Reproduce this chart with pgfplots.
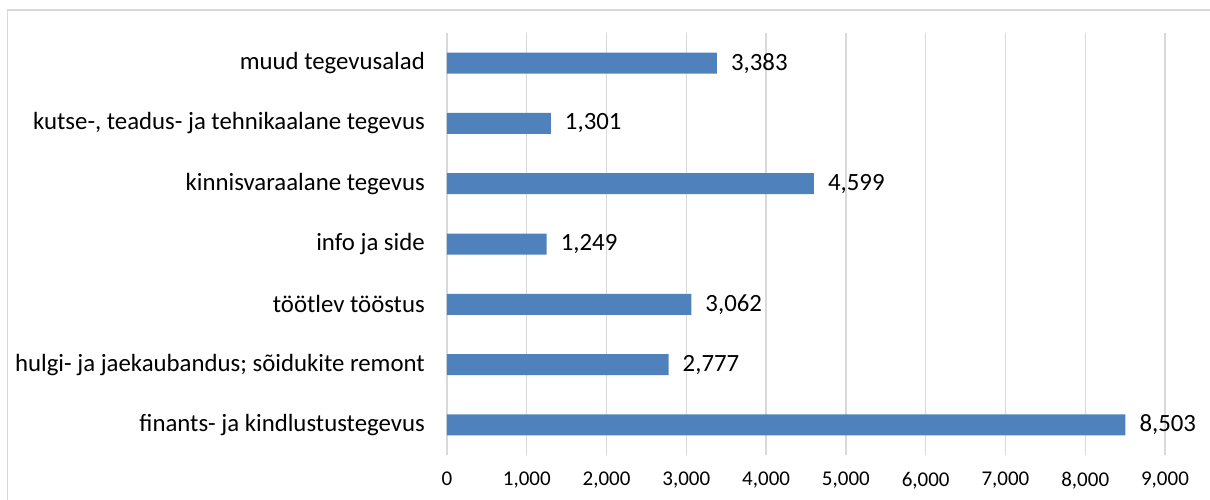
\documentclass[border=0pt]{standalone}
\usepackage{pgfplots}
\pgfplotsset{compat=1.18}
\usepackage{fontspec}
\setmainfont{Carlito}
\definecolor{barblue}{HTML}{4F81BD}
\definecolor{gridgray}{HTML}{D9D9D9}
\begin{document}
\begin{tikzpicture}
\path[use as bounding box] (0,0) rectangle (1210pt,499pt);
\draw[gridgray, line width=1.5pt] (7.5pt,-5pt) -- (7.5pt,489pt) -- (1215pt,489pt);
\begin{axis}[
    at={(447pt,44pt)}, anchor=south west,
    scale only axis,
    width=718pt, height=422pt,
    xbar, bar width=21pt,
    xmin=0, xmax=9000,
    ymin=-0.5, ymax=6.5,
    xtick={0,1000,...,9000},
    ytick={0,...,6},
    yticklabels={finants- ja kindlustustegevus,
                 hulgi- ja jaekaubandus; sõidukite remont,
                 töötlev tööstus,
                 info ja side,
                 kinnisvaraalane tegevus,
                 {kutse-, teadus- ja tehnikaalane tegevus},
                 muud tegevusalad},
    axis line style={draw=none},
    major tick length=0pt,
    xmajorgrids,
    grid style={gridgray, line width=1.3pt},
    /pgf/number format/assume math mode=true,
    /pgf/number format/1000 sep={,},
    scaled x ticks=false,
    xticklabel style={font=\fontsize{21}{24}\selectfont, anchor=north, inner sep=0pt, yshift=-17pt},
    yticklabel style={font=\fontsize{24.8}{28}\selectfont, anchor=east, inner sep=0pt, xshift=-22pt},
    nodes near coords,
    nodes near coords style={font=\fontsize{24.8}{28}\selectfont, anchor=west, inner sep=0pt, xshift=14pt},
    clip=false,
]
\addplot[fill=barblue, draw=none] coordinates {
    (8503,0) (2777,1) (3062,2) (1249,3) (4599,4) (1301,5) (3383,6)
};
\end{axis}
\end{tikzpicture}
\end{document}
